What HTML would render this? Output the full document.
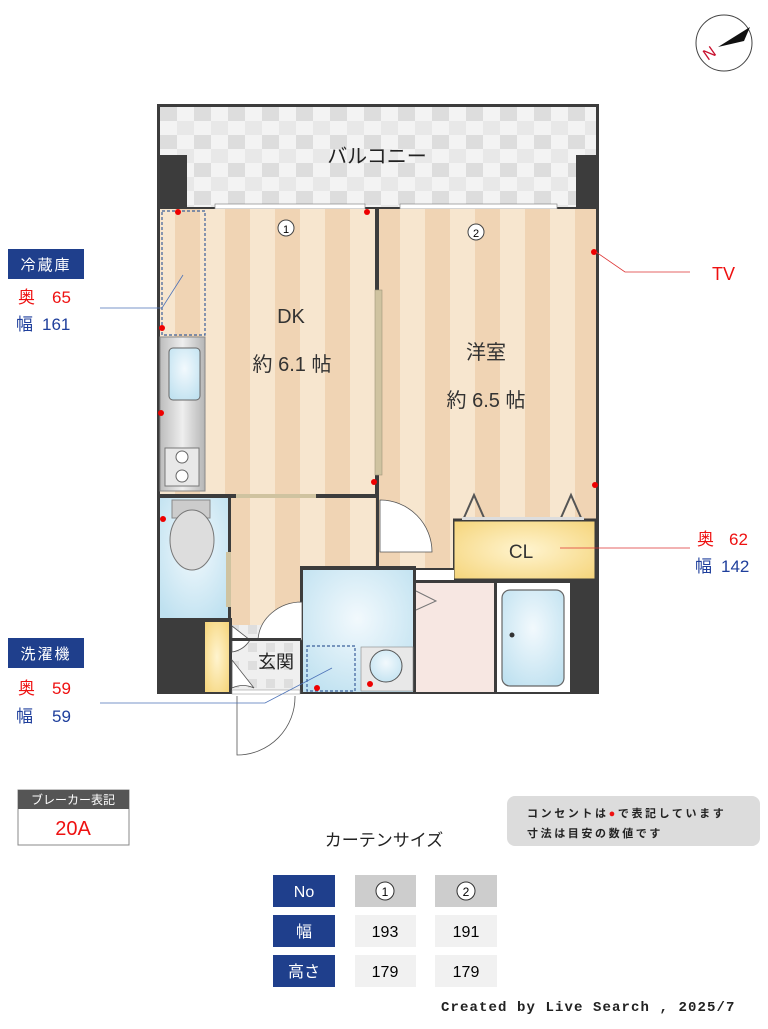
<!DOCTYPE html>
<html><head><meta charset="utf-8"><style>
body{margin:0;background:#fff;}
svg text{font-family:"Liberation Sans","Noto Sans CJK JP",sans-serif;}
</style></head><body>
<svg width="768" height="1024" viewBox="0 0 768 1024" xmlns="http://www.w3.org/2000/svg">
<defs>
<pattern id="tile" x="160" y="107" width="34" height="28" patternUnits="userSpaceOnUse">
<rect width="34" height="28" fill="#f3f3f3"/>
<rect x="0" y="0" width="17" height="14" fill="#dddddd"/>
<rect x="17" y="14" width="17" height="14" fill="#e8e8e8"/>
</pattern>
<pattern id="stripe" x="0" y="0" width="50" height="10" patternUnits="userSpaceOnUse">
<rect width="50" height="10" fill="#f7e6cf"/>
<rect x="25" width="25" height="10" fill="#f0d4b4"/>
</pattern>
<pattern id="gtile" x="230" y="625" width="18" height="18" patternUnits="userSpaceOnUse">
<rect width="18" height="18" fill="#efefef"/><rect width="9" height="9" fill="#dedede"/>
</pattern>
<radialGradient id="blue" cx="0.5" cy="0.4" r="0.7"><stop offset="0" stop-color="#f2f9fd"/><stop offset="1" stop-color="#bfe1f0"/></radialGradient>
<radialGradient id="yel" cx="0.5" cy="0.5" r="0.7"><stop offset="0" stop-color="#fff4cf"/><stop offset="1" stop-color="#f5d479"/></radialGradient>
<linearGradient id="steel" x1="0" x2="1"><stop offset="0" stop-color="#bdbdbd"/><stop offset="0.5" stop-color="#eeeeee"/><stop offset="1" stop-color="#b5b5b5"/></linearGradient>
</defs>

<!-- compass -->
<circle cx="724" cy="43" r="28" fill="#fff" stroke="#444" stroke-width="1"/>
<polygon points="718,47 750,27 744,41" fill="#111"/>
<text x="703" y="58" font-size="16" fill="#c8102e" transform="rotate(-35 710 52)">N</text>

<!-- outer dark -->
<rect x="157" y="104" width="442" height="590" fill="#3c3c3c"/>
<rect x="160" y="107" width="436" height="100" fill="url(#tile)"/>
<rect x="157" y="155" width="30" height="52" fill="#3c3c3c"/>
<rect x="576" y="155" width="23" height="52" fill="#3c3c3c"/>
<text x="377" y="163" font-size="20" text-anchor="middle" fill="#222">バルコニー</text>
<rect x="215" y="204" width="150" height="5" fill="#fff" stroke="#888" stroke-width="0.7"/>
<rect x="400" y="204" width="157" height="5" fill="#fff" stroke="#888" stroke-width="0.7"/>

<rect x="160" y="209" width="215" height="287" fill="url(#stripe)"/>
<rect x="378" y="209" width="218" height="310" fill="url(#stripe)"/>
<rect x="376" y="207" width="3" height="290" fill="#3c3c3c"/>
<rect x="375" y="290" width="7" height="185" fill="#cfc3a0" stroke="#9e9478" stroke-width="0.6"/>
<rect x="162" y="211" width="43" height="124" fill="none" stroke="#3b5f9a" stroke-width="1.2" stroke-dasharray="3,2"/>
<rect x="160" y="337" width="45" height="154" fill="url(#steel)" stroke="#888" stroke-width="1"/>
<rect x="169" y="348" width="31" height="52" rx="4" fill="url(#blue)" stroke="#666"/>
<rect x="165" y="448" width="34" height="38" fill="#e8e8e8" stroke="#777"/>
<circle cx="182" cy="457" r="6" fill="#fff" stroke="#666"/>
<circle cx="182" cy="476" r="6" fill="#fff" stroke="#666"/>
<text x="291" y="323" font-size="20" text-anchor="middle" fill="#333">DK</text>
<text x="292" y="371" font-size="20" text-anchor="middle" fill="#333">約 6.1 帖</text>
<text x="486" y="359" font-size="20" text-anchor="middle" fill="#333">洋室</text>
<text x="486" y="407" font-size="20" text-anchor="middle" fill="#333">約 6.5 帖</text>
<circle cx="286" cy="228" r="8" fill="#fff" stroke="#444"/><text x="286" y="233" font-size="11" text-anchor="middle">1</text>
<circle cx="476" cy="232" r="8" fill="#fff" stroke="#444"/><text x="476" y="237" font-size="11" text-anchor="middle">2</text>

<rect x="157" y="494" width="222" height="4" fill="#3c3c3c"/>
<rect x="236" y="494" width="80" height="4" fill="#cfc3a0"/>
<rect x="160" y="498" width="68" height="120" fill="url(#blue)"/>
<rect x="228" y="498" width="3" height="124" fill="#3c3c3c"/>
<rect x="226" y="552" width="6" height="55" fill="#cfc3a0"/>
<rect x="172" y="500" width="38" height="18" fill="#ccc" stroke="#888"/>
<ellipse cx="192" cy="540" rx="22" ry="30" fill="#ddd" stroke="#777"/>
<rect x="231" y="498" width="145" height="142" fill="url(#stripe)"/>
<rect x="453" y="520" width="143" height="60" fill="url(#yel)" stroke="#3c3c3c" stroke-width="3"/>
<text x="521" y="558" font-size="19" text-anchor="middle" fill="#333">CL</text>
<polyline points="463,520 474,495 485,520" fill="none" stroke="#555" stroke-width="2"/>
<polyline points="560,520 571,495 582,520" fill="none" stroke="#555" stroke-width="2"/>
<rect x="462" y="517" width="122" height="3" fill="#ddd"/>
<rect x="378" y="498" width="75" height="70" fill="url(#stripe)"/>
<path d="M380,500 L380,552 L432,552 A52,52 0 0 0 380,500 Z" fill="#fff" stroke="#555" stroke-width="0.8"/>
<rect x="376" y="496" width="3" height="72" fill="#3c3c3c"/>
<rect x="300" y="566" width="116" height="5" fill="#3c3c3c"/>
<rect x="302" y="570" width="111" height="122" fill="url(#blue)"/>
<rect x="300" y="566" width="3" height="128" fill="#3c3c3c"/>
<rect x="413" y="566" width="3" height="128" fill="#3c3c3c"/>
<rect x="307" y="646" width="48" height="45" fill="none" stroke="#3b5f9a" stroke-width="1.2" stroke-dasharray="3,2"/>
<rect x="361" y="647" width="52" height="44" fill="#e8e8e8" stroke="#888" stroke-width="0.6"/>
<circle cx="386" cy="666" r="16" fill="url(#blue)" stroke="#555"/>
<rect x="416" y="570" width="38" height="12" fill="#fff"/>
<rect x="414" y="580" width="185" height="3" fill="#3c3c3c"/>
<rect x="416" y="583" width="78" height="109" fill="#f7e7e2"/>
<polyline points="416,591 436,601 416,610" fill="none" stroke="#777" stroke-width="1"/>
<rect x="494" y="583" width="3" height="109" fill="#3c3c3c"/>
<rect x="497" y="583" width="73" height="109" fill="#fff"/>
<rect x="502" y="590" width="62" height="96" rx="8" fill="url(#blue)" stroke="#666" stroke-width="1.2"/>
<circle cx="512" cy="635" r="2.5" fill="#333"/>
<rect x="205" y="622" width="24" height="70" fill="url(#yel)"/>
<rect x="231" y="625" width="69" height="67" fill="url(#gtile)"/>
<rect x="229" y="618" width="3" height="76" fill="#3c3c3c"/>
<path d="M302,602 L302,640 L258,640 A44,40 0 0 1 302,602 Z" fill="#fff" stroke="#555" stroke-width="0.8"/>
<path d="M232,626 L232,652 A26,26 0 0 0 250,640 Z" fill="#fff" stroke="#555" stroke-width="0.8"/>
<path d="M232,660 L232,688 A26,26 0 0 1 254,688 Z" fill="#fff" stroke="#555" stroke-width="0.8"/>
<rect x="231" y="638" width="70" height="3" fill="#3c3c3c"/>
<text x="276" y="668" font-size="18" text-anchor="middle" fill="#222">玄関</text>
<rect x="232" y="690" width="68" height="4" fill="#fff" stroke="#888" stroke-width="0.5"/>
<path d="M237,696 L237,755 A58,58 0 0 0 295,696" fill="none" stroke="#555" stroke-width="0.8"/>

<g fill="#e00">
<circle cx="178" cy="212" r="3"/><circle cx="367" cy="212" r="3"/><circle cx="162" cy="328" r="3"/><circle cx="161" cy="413" r="3"/><circle cx="374" cy="482" r="3"/><circle cx="594" cy="252" r="3"/><circle cx="595" cy="485" r="3"/><circle cx="163" cy="519" r="3"/><circle cx="317" cy="688" r="3"/><circle cx="370" cy="684" r="3"/>
</g>

<rect x="8" y="249" width="76" height="30" fill="#1f3f8c"/>
<text x="46" y="270" font-size="15" fill="#fff" text-anchor="middle" letter-spacing="2">冷蔵庫</text>
<text x="18" y="303" font-size="17" fill="#e11">奥</text><text x="52" y="303" font-size="17" fill="#e11">65</text>
<text x="16" y="330" font-size="17" fill="#1f3f9c">幅</text><text x="42" y="330" font-size="17" fill="#1f3f9c">161</text>
<polyline points="100,308 162,308 183,275" fill="none" stroke="#4d73b8" stroke-width="0.8"/>
<rect x="8" y="638" width="76" height="30" fill="#1f3f8c"/>
<text x="46" y="659" font-size="15" fill="#fff" text-anchor="middle" letter-spacing="2">洗濯機</text>
<text x="18" y="694" font-size="17" fill="#e11">奥</text><text x="52" y="694" font-size="17" fill="#e11">59</text>
<text x="16" y="722" font-size="17" fill="#1f3f9c">幅</text><text x="52" y="722" font-size="17" fill="#1f3f9c">59</text>
<polyline points="100,703 265,703 332,668" fill="none" stroke="#4d73b8" stroke-width="0.8"/>
<polyline points="596,252 625,272 690,272" fill="none" stroke="#d33" stroke-width="0.8"/>
<text x="712" y="280" font-size="18" fill="#e11">TV</text>
<line x1="560" y1="548" x2="690" y2="548" stroke="#d33" stroke-width="0.8"/>
<text x="697" y="545" font-size="17" fill="#e11">奥</text><text x="729" y="545" font-size="17" fill="#e11">62</text>
<text x="695" y="572" font-size="17" fill="#1f3f9c">幅</text><text x="721" y="572" font-size="17" fill="#1f3f9c">142</text>

<rect x="18" y="790" width="111" height="55" fill="#fff" stroke="#888"/>
<rect x="18" y="790" width="111" height="19" fill="#555"/>
<text x="73" y="804" font-size="12" fill="#fff" text-anchor="middle">ブレーカー表記</text>
<text x="73" y="835" font-size="20" fill="#e11" text-anchor="middle">20A</text>
<rect x="507" y="796" width="253" height="50" rx="8" fill="#dcdcdc"/>
<text x="527" y="817" font-size="11" font-weight="bold" fill="#222" letter-spacing="2.6">コンセントは<tspan fill="#e11">●</tspan>で表記しています</text>
<text x="527" y="837" font-size="11" font-weight="bold" fill="#222" letter-spacing="2.6">寸法は目安の数値です</text>
<text x="384" y="846" font-size="17" fill="#222" text-anchor="middle">カーテンサイズ</text>
<g font-size="16" text-anchor="middle">
<rect x="273" y="875" width="62" height="32" fill="#1f3f8c"/><text x="304" y="897" fill="#fff">No</text>
<rect x="355" y="875" width="61" height="32" fill="#cdcdcd"/><circle cx="385" cy="891" r="9" fill="#fff" stroke="#333"/><text x="385" y="896" font-size="12">1</text>
<rect x="435" y="875" width="62" height="32" fill="#cdcdcd"/><circle cx="466" cy="891" r="9" fill="#fff" stroke="#333"/><text x="466" y="896" font-size="12">2</text>
<rect x="273" y="915" width="62" height="32" fill="#1f3f8c"/><text x="304" y="937" fill="#fff">幅</text>
<rect x="355" y="915" width="61" height="32" fill="#f1f1f1"/><text x="385" y="937">193</text>
<rect x="435" y="915" width="62" height="32" fill="#f1f1f1"/><text x="466" y="937">191</text>
<rect x="273" y="955" width="62" height="32" fill="#1f3f8c"/><text x="304" y="977" fill="#fff">高さ</text>
<rect x="355" y="955" width="61" height="32" fill="#f1f1f1"/><text x="385" y="977">179</text>
<rect x="435" y="955" width="62" height="32" fill="#f1f1f1"/><text x="466" y="977">179</text>
</g>
<text x="441" y="1011" font-size="14" font-weight="bold" fill="#222" style="font-family:'Liberation Mono',monospace" letter-spacing="1.1">Created by Live Search , 2025/7</text>
</svg>
</body></html>
